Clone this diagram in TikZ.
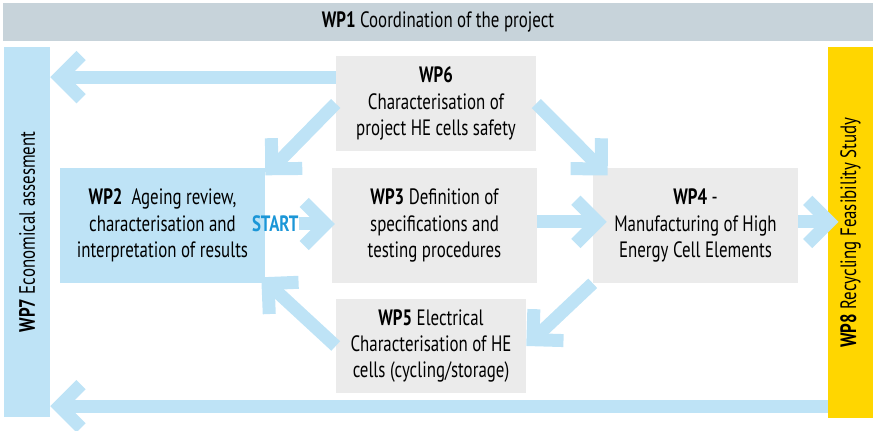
\documentclass[tikz,border=0pt]{standalone}
\usepackage{fontspec}
\setmainfont{PT Sans}[FakeStretch=0.76]
\usepackage{xcolor}
\usetikzlibrary{arrows.meta,positioning,calc}

\definecolor{wpgray}{RGB}{235,235,235}
\definecolor{wpblue}{RGB}{190,227,246}
\definecolor{wpyellow}{RGB}{255,214,0}
\definecolor{coordgray}{RGB}{199,211,218}
\definecolor{startblue}{RGB}{27,150,215}

\begin{document}
\begin{tikzpicture}[
  box/.style={fill=wpgray, minimum width=5.125cm, minimum height=2.875cm,
              align=center, inner sep=2pt},
  bar/.style={minimum width=1.15cm, minimum height=9.25cm, inner sep=0pt},
  flow/.style={draw=wpblue, line width=0.325cm,
               -{Straight Barb[length=0.54cm, width=1.08cm]}},
  font=\fontsize{15.8}{18.7}\selectfont
]
  \useasboundingbox (0,0) rectangle (21.875,-10.775);

  % frame: coordination on top, economy and recycling at the sides
  \node[fill=coordgray, minimum width=21.75cm, minimum height=0.95cm] (coord) at (10.95,-0.55)
    {\textbf{WP1} Coordination of the project};
  \node[bar, fill=wpblue] (econ) at (0.675,-5.8)
    {\rotatebox{90}{\textbf{WP7} Economical assesment}};
  \node[bar, fill=wpyellow, minimum width=1.125cm] (recyc) at (21.2625,-5.8125)
    {\rotatebox{90}{\textbf{WP8} Recycling Feasibility Study}};

  % work packages
  \node[box, minimum width=5cm, minimum height=2.375cm] (safety) at (10.9,-2.5875)
    {\textbf{WP6}\\Characterisation of\\project HE cells safety};
  \node[box, fill=wpblue] (ageing) at (4.0625,-5.6375)
    {\textbf{WP2}~ Ageing review,\\characterisation and\\interpretation of results};
  \node[box] (specs) at (10.8625,-5.6375)
    {\textbf{WP3} Definition of\\specifications and\\testing procedures};
  \node[box] (manuf) at (17.3875,-5.6375)
    {\textbf{WP4} -\\Manufacturing of High\\Energy Cell Elements};
  \node[box, minimum width=4.75cm, minimum height=2.35cm] (elec) at (10.775,-8.65)
    {\textbf{WP5} Electrical\\Characterisation of HE\\cells (cycling/storage)};
  \node[inner sep=0pt, text=startblue, font=\fontsize{15.8}{18.7}\selectfont\bfseries] (start) at (6.88,-5.6) {START};

  \coordinate (tocost) at ([yshift=0.66cm]safety.west);
  \coordinate (back) at ([yshift=0.29cm]recyc.south west);
  \coordinate (mid) at ([yshift=0.09cm]manuf.east);

  \draw[flow] (tocost) -- (tocost -| econ.east);
  \draw[flow] (safety.west) -- ($(ageing.north east)+(0,-0.19)$);
  \draw[flow] (safety.east) -- ($(manuf.north west)+(0.375,-0.19)$);
  \draw[flow] (start.east) -- ([xshift=0.08cm]start.east -| specs.west);
  \draw[flow] ([yshift=0.09cm]specs.east) -- ([xshift=0.35cm,yshift=0.09cm]manuf.west);
  \draw[flow] (mid) -- ([xshift=0.27cm]mid -| recyc.west);
  \draw[flow] (manuf.south west) -- (elec.east);
  \draw[flow] (elec.west) -- ($(ageing.south east)+(-0.1,0.15)$);
  \draw[flow] (back) -- (back -| econ.east);
\end{tikzpicture}
\end{document}
